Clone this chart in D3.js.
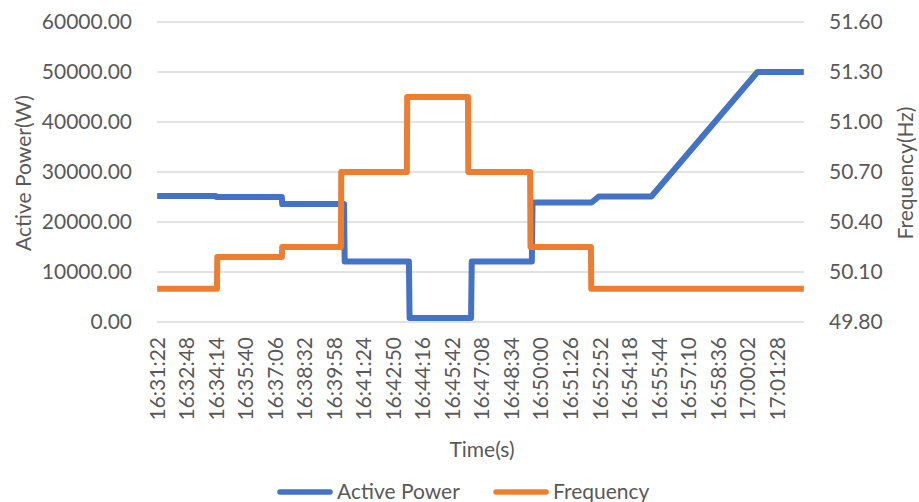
<!DOCTYPE html>
<html>
<head>
<meta charset="utf-8">
<script src="https://cdn.jsdelivr.net/npm/d3@7"></script>
<style>
  html, body { margin: 0; padding: 0; background: #ffffff; }
  svg { display: block; }
  text { font-family: Lato, "Open Sans", sans-serif; fill: #595959; }
</style>
</head>
<body>
<svg id="chart" width="919" height="502"></svg>
<script>
// ---------------- data ----------------
const startTime = "16:31:22";
const endTime = "17:02:45";

// Active power breakpoints (time of day, W)
const powerTimes = ["16:31:22","16:34:13","16:34:14","16:37:25","16:37:26","16:40:26","16:40:28",
  "16:43:35","16:43:37","16:46:36","16:46:38","16:49:33","16:49:35","16:52:27","16:52:48",
  "16:55:21","17:00:30","17:02:45"];
const powerValues = [25200,25200,25000,25000,23600,23600,12100,
  12100,800,800,12100,12100,23900,23900,25100,
  25100,50000,50000];

// Frequency breakpoints (time of day, Hz)
const freqTimes = ["16:31:22","16:34:16","16:34:17","16:37:25","16:37:26","16:40:17","16:40:18",
  "16:43:29","16:43:30","16:46:27","16:46:28","16:49:28","16:49:29","16:52:25","16:52:26","17:02:45"];
const freqValues = [50.00,50.00,50.19,50.19,50.25,50.25,50.70,
  50.70,51.15,51.15,50.70,50.70,50.25,50.25,50.00,50.00];

const xTickLabels = ["16:31:22","16:32:48","16:34:14","16:35:40","16:37:06","16:38:32","16:39:58",
  "16:41:24","16:42:50","16:44:16","16:45:42","16:47:08","16:48:34","16:50:00","16:51:26",
  "16:52:52","16:54:18","16:55:44","16:57:10","16:58:36","17:00:02","17:01:28"];
const powerTicks = [0,10000,20000,30000,40000,50000,60000];
const freqTicks = [49.80,50.10,50.40,50.70,51.00,51.30,51.60];

const seriesNames = ["Active Power","Frequency"];
const seriesColors = ["#4472C4","#ED7D31"];

// ---------------- helpers ----------------
function secs(s){ const p = s.split(":").map(Number); return p[0]*3600+p[1]*60+p[2]; }
const t0 = secs(startTime);
const nSamples = secs(endTime) - t0 + 1;

const powerData = powerTimes.map((t,i)=>({t: secs(t)-t0, v: powerValues[i]}));
const freqData = freqTimes.map((t,i)=>({t: secs(t)-t0, v: freqValues[i]}));

// ---------------- layout ----------------
const svg = d3.select("#chart");
const L = 157, R = 804, T = 22, B = 322;

const x = d3.scaleLinear().domain([-0.5, nSamples-0.5]).range([L, R]);
const yP = d3.scaleLinear().domain([0, 60000]).range([B, T]);
const yF = d3.scaleLinear().domain([49.8, 51.6]).range([B, T]);

// gridlines
svg.append("g").selectAll("line").data(powerTicks).join("line")
  .attr("x1", L).attr("x2", R)
  .attr("y1", d=>yP(d)).attr("y2", d=>yP(d))
  .attr("stroke", "#d9d9d9").attr("stroke-width", 1.5);

// left axis labels
const leftAxis = d3.axisLeft(yP).tickValues(powerTicks).tickFormat(d3.format(".2f")).tickSize(0).tickPadding(25);
svg.append("g").attr("transform", `translate(${L},0)`).call(leftAxis)
  .call(g=>g.select(".domain").remove())
  .selectAll("text").style("font-size","21px").attr("fill","#595959");

// right axis labels
const rightAxis = d3.axisRight(yF).tickValues(freqTicks).tickFormat(d3.format(".2f")).tickSize(0).tickPadding(25);
svg.append("g").attr("transform", `translate(${R},0)`).call(rightAxis)
  .call(g=>g.select(".domain").remove())
  .selectAll("text").style("font-size","21px").attr("fill","#595959");

// x tick labels (rotated)
const xg = svg.append("g");
xg.selectAll("text").data(xTickLabels).join("text")
  .attr("transform", d=>`translate(${x(secs(d)-t0)},${B+15}) rotate(-90)`)
  .attr("text-anchor","end").attr("dy","0.35em")
  .style("font-size","21px")
  .text(d=>d);

// lines
const linePower = d3.line().x(d=>x(d.t)).y(d=>yP(d.v));
const lineFreq = d3.line().x(d=>x(d.t)).y(d=>yF(d.v));

svg.append("path").datum(powerData).attr("d", linePower)
  .attr("fill","none").attr("stroke", seriesColors[0]).attr("stroke-width", 6)
  .attr("stroke-linejoin","round").attr("stroke-linecap","butt");
svg.append("path").datum(freqData).attr("d", lineFreq)
  .attr("fill","none").attr("stroke", seriesColors[1]).attr("stroke-width", 6)
  .attr("stroke-linejoin","round").attr("stroke-linecap","butt");

// axis titles
svg.append("text").attr("transform","translate(31,173) rotate(-90)")
  .attr("text-anchor","middle").style("font-size","21px").text("Active Power(W)");
svg.append("text").attr("transform","translate(913,173) rotate(-90)")
  .attr("text-anchor","middle").style("font-size","21px").text("Frequency(Hz)");
svg.append("text").attr("x",482).attr("y",457)
  .attr("text-anchor","middle").style("font-size","21px").text("Time(s)");

// legend
const legendX = [277, 493];
const leg = svg.append("g");
seriesNames.forEach((name,i)=>{
  leg.append("line").attr("x1",legendX[i]+3).attr("x2",legendX[i]+53)
    .attr("y1",492).attr("y2",492)
    .attr("stroke",seriesColors[i]).attr("stroke-width",5.5).attr("stroke-linecap","round");
  leg.append("text").attr("x",legendX[i]+60).attr("y",499)
    .style("font-size","21px").text(name);
});
</script>
</body>
</html>
